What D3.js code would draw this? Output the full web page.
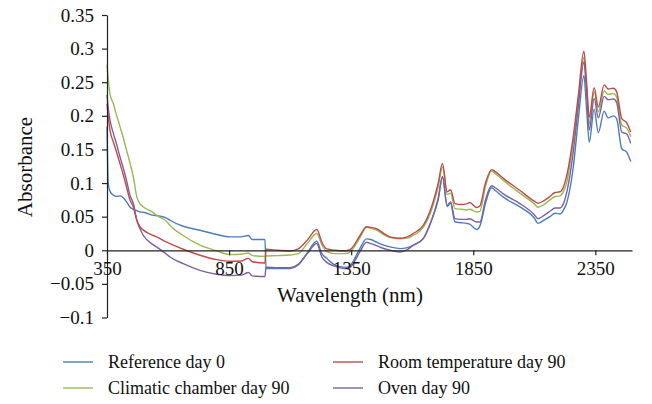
<!DOCTYPE html>
<html><head><meta charset="utf-8">
<script src="https://cdn.jsdelivr.net/npm/d3@7"></script>
<style>body{margin:0;background:#fff}svg{display:block}</style>
</head><body><svg id="c" width="652" height="404"></svg>
<script>
const wavelengths = [350,355,362,376,390,403,417,430,444,458,472,485,499,540,553,594,608,662,731,799,854,900,929,945,997,1001,1050,1100,1133,1170,1209,1230,1250,1284,1320,1339,1352,1386,1413,1430,1454,1480,1509,1550,1580,1604,1645,1679,1706,1724,1743,1757,1775,1800,1823,1835,1864,1877,1900,1925,1940,1973,2041,2100,2115,2140,2164,2185,2205,2220,2232,2259,2280,2303,2314,2325,2345,2362,2386,2402,2424,2437,2458,2478,2495];
const referenceDay0 = [0.184,0.10,0.088,0.082,0.080,0.081,0.078,0.072,0.0645,0.061,0.059,0.057,0.0566,0.052,0.0515,0.048,0.0447,0.0357,0.0298,0.0234,0.0199,0.020,0.022,0.016,0.016,-0.027,-0.027,-0.027,-0.022,-0.004,0.0134,-0.005,-0.012,-0.022,-0.025,-0.025,-0.02,0.003,0.017,0.016,0.012,0.008,0.005,0.0025,0.004,0.0074,0.0174,0.0447,0.0745,0.109,0.065,0.07,0.042,0.041,0.040,0.039,0.031,0.036,0.07,0.093,0.089,0.079,0.0645,0.048,0.040,0.045,0.05,0.055,0.054,0.06,0.07,0.122,0.194,0.26,0.21,0.161,0.21,0.175,0.207,0.197,0.2,0.196,0.151,0.146,0.132];
const roomTempDay90 = [0.218,0.2,0.179,0.161,0.145,0.129,0.112,0.094,0.075,0.0645,0.045,0.035,0.030,0.022,0.020,0.012,0.010,0.0015,-0.0074,-0.0139,-0.0164,-0.016,-0.012,-0.017,-0.019,0.0015,0.0,-0.001,0.002,0.015,0.031,0.012,0.002,0.0,-0.001,0.0,0.003,0.022,0.035,0.034,0.032,0.026,0.020,0.018,0.020,0.025,0.037,0.0645,0.099,0.129,0.087,0.09,0.0695,0.068,0.069,0.071,0.0636,0.066,0.1,0.12,0.117,0.107,0.089,0.073,0.07,0.074,0.08,0.086,0.087,0.095,0.11,0.168,0.23,0.296,0.25,0.198,0.242,0.213,0.246,0.24,0.241,0.236,0.196,0.19,0.176];
const climaticDay90 = [0.276,0.255,0.233,0.218,0.2,0.184,0.167,0.149,0.13,0.109,0.0794,0.069,0.0645,0.0556,0.052,0.043,0.037,0.022,0.0075,-0.001,-0.0064,-0.006,-0.004,-0.008,-0.009,-0.0085,-0.008,-0.007,-0.005,0.01,0.025,0.008,-0.002,-0.005,-0.005,-0.004,0.0,0.019,0.034,0.033,0.030,0.024,0.019,0.017,0.018,0.022,0.034,0.06,0.094,0.124,0.083,0.085,0.062,0.061,0.060,0.061,0.057,0.058,0.095,0.118,0.114,0.104,0.085,0.069,0.064,0.068,0.075,0.08,0.081,0.088,0.1,0.16,0.222,0.287,0.24,0.188,0.236,0.206,0.237,0.232,0.233,0.228,0.186,0.182,0.169];
const ovenDay90 = [0.231,0.212,0.194,0.174,0.157,0.139,0.122,0.104,0.082,0.0695,0.0447,0.032,0.022,0.008,0.005,-0.006,-0.01,-0.0199,-0.0298,-0.0357,-0.0377,-0.037,-0.033,-0.038,-0.039,-0.025,-0.026,-0.026,-0.021,-0.005,0.010,-0.01,-0.018,-0.024,-0.027,-0.027,-0.023,-0.002,0.012,0.010,0.007,0.003,0.0,-0.0025,0.001,0.0074,0.0174,0.0447,0.077,0.11,0.067,0.072,0.047,0.046,0.046,0.047,0.042,0.042,0.075,0.096,0.093,0.084,0.0695,0.053,0.047,0.052,0.058,0.063,0.063,0.07,0.085,0.145,0.214,0.28,0.235,0.179,0.226,0.197,0.229,0.224,0.225,0.22,0.176,0.173,0.159];
const seriesNames = ["Reference day 0","Room temperature day 90","Climatic chamber day 90","Oven day 90"];
const xTicks = [350,850,1350,1850,2350];
const yTicks = [-0.1,-0.05,0,0.05,0.1,0.15,0.2,0.25,0.3,0.35];

const colors = {"Reference day 0":"#4a7ebb","Room temperature day 90":"#be4b48","Climatic chamber day 90":"#98b954","Oven day 90":"#7d60a0"};
const seriesValues = [referenceDay0, roomTempDay90, climaticDay90, ovenDay90];
const FONT = "Liberation Serif";

const svg = d3.select("#c");
const x = d3.scaleLinear().domain([350,2500]).range([107,632]);
const y = d3.scaleLinear().domain([-0.1,0.35]).range([317.5,15]);
const fmt = v => v === 0 ? "0" : (v < 0 ? "\u2212" + String(+(-v).toFixed(2)) : String(+v.toFixed(2)));

const line = d3.line().x((d,i)=>x(wavelengths[i])).y(d=>y(d)).curve(d3.curveMonotoneX);
const order = [0,2,3,1];
order.forEach(k=>{
  svg.append("path").datum(seriesValues[k]).attr("d",line)
    .attr("fill","none").attr("stroke",colors[seriesNames[k]]).attr("stroke-width",1.4).attr("stroke-linejoin","round");
});

// Y axis
const yAxis = svg.append("g").attr("transform","translate(107,0)")
  .call(d3.axisLeft(y).tickValues(yTicks).tickFormat(fmt).tickSize(5).tickSizeOuter(0).tickPadding(8));
yAxis.select(".domain").attr("stroke","#222").attr("stroke-width",1.2);
yAxis.selectAll(".tick line").attr("stroke","#222").attr("stroke-width",1.2);
yAxis.selectAll("text").style("font-family",FONT).style("font-size","19px").attr("fill","#111");

// X axis at y=0
const xAxis = svg.append("g").attr("transform",`translate(0,${y(0)})`)
  .call(d3.axisBottom(x).tickValues(xTicks).tickFormat(d3.format("d")).tickSize(5).tickSizeOuter(0).tickPadding(6));
xAxis.select(".domain").attr("stroke","#222").attr("stroke-width",1.2);
xAxis.selectAll(".tick line").attr("stroke","#222").attr("stroke-width",1.2);
xAxis.selectAll("text").style("font-family",FONT).style("font-size","19px").attr("fill","#111");

svg.append("text").attr("x",350).attr("y",302).attr("text-anchor","middle")
  .style("font-family",FONT).style("font-size","21px").attr("fill","#111").text("Wavelength (nm)");
svg.append("text").attr("transform","translate(32,167) rotate(-90)").attr("text-anchor","middle")
  .style("font-family",FONT).style("font-size","21px").attr("fill","#111").text("Absorbance");

// Legend
const legendPos = [[63,362],[333,362],[63,388],[333,388]];
const lg = svg.append("g");
seriesNames.forEach((name,i)=>{
  const [lx,ly] = legendPos[i];
  lg.append("line").attr("x1",lx).attr("x2",lx+30).attr("y1",ly).attr("y2",ly)
    .attr("stroke",colors[name]).attr("stroke-width",1.4);
  lg.append("text").attr("x",lx+45).attr("y",ly+6).style("font-family",FONT).style("font-size","18px")
    .attr("fill","#111").text(name);
});
</script></body></html>
